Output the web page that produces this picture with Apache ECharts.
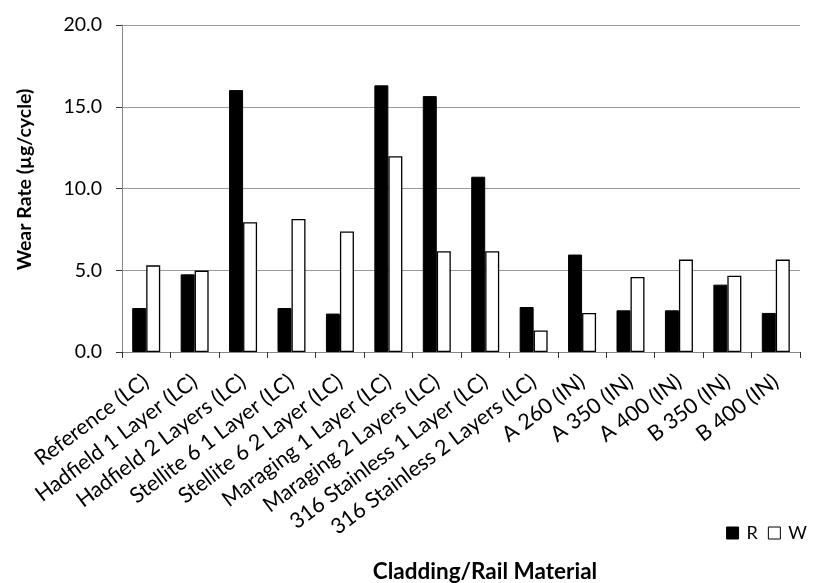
<!DOCTYPE html>
<html>
<head>
<meta charset="utf-8">
<script src="https://cdn.jsdelivr.net/npm/echarts@6/dist/echarts.min.js"></script>
<style>html,body{margin:0;padding:0;background:#fff}#c{width:816px;height:583px}</style>
</head>
<body>
<div id="c"></div>
<script>
const categories = ['Reference (LC)','Hadfield 1 Layer (LC)','Hadfield 2 Layers (LC)','Stellite 6 1 Layer (LC)','Stellite 6 2 Layer (LC)','Maraging 1 Layer (LC)','Maraging 2 Layers (LC)','316 Stainless 1 Layer (LC)','316 Stainless 2 Layers (LC)','A 260 (IN)','A 350 (IN)','A 400 (IN)','B 350 (IN)','B 400 (IN)'];
const seriesR = [2.69, 4.75, 16.02, 2.69, 2.35, 16.31, 15.65, 10.72, 2.75, 5.96, 2.55, 2.55, 4.12, 2.39];
const seriesW = [5.30, 4.98, 7.94, 8.14, 7.37, 11.98, 6.16, 6.16, 1.32, 2.39, 4.59, 5.65, 4.67, 5.65];
const yTicks = [0, 5, 10, 15, 20];

const FONT = 'Lato';
const chart = echarts.init(document.getElementById('c'));
chart.setOption({
  animation: false,
  textStyle: { fontFamily: FONT },
  grid: { left: 122, right: 16, top: 25, bottom: 231, containLabel: false, outerBoundsMode: 'none' },
  legend: {
    right: 4, top: 519,
    itemWidth: 12, itemHeight: 12, itemGap: 10,
    textStyle: { fontFamily: FONT, fontSize: 18, color: '#000', padding: [0, 0, 0, 3] },
    data: [
      { name: 'R', icon: 'rect', itemStyle: { color: '#000', borderColor: '#000', borderWidth: 1 } },
      { name: 'W', icon: 'rect', itemStyle: { color: '#fff', borderColor: '#000', borderWidth: 1 } }
    ]
  },
  xAxis: {
    type: 'category',
    data: categories,
    name: 'Cladding/Rail Material',
    nameLocation: 'middle',
    nameGap: 208,
    nameMoveOverlap: false,
    nameTextStyle: { fontFamily: FONT, fontSize: 22.5, fontWeight: 'bold', color: '#000', padding: [0, 0, 0, 48] },
    axisLine: { lineStyle: { color: '#888', width: 1 } },
    axisTick: { show: true, alignWithLabel: false, length: 6, lineStyle: { color: '#333' } },
    axisLabel: { rotate: 37, interval: 0, fontSize: 21.5, color: '#000', margin: 27, fontFamily: FONT }
  },
  yAxis: {
    type: 'value',
    min: 0, max: 20, interval: 5,
    name: 'Wear Rate (µg/cycle)',
    nameLocation: 'middle',
    nameGap: 87,
    nameTextStyle: { fontFamily: FONT, fontSize: 19.5, fontWeight: 'bold', color: '#000', padding: [0, 0, 0, 18] },
    axisLine: { show: true, lineStyle: { color: '#888', width: 1 } },
    axisTick: { show: true, length: 6, lineStyle: { color: '#333' } },
    splitLine: { lineStyle: { color: '#999', width: 1 } },
    axisLabel: { fontSize: 19.5, color: '#000', margin: 20, fontFamily: FONT, formatter: v => yTicks.includes(v) ? v.toFixed(1) : '' }
  },
  series: [
    { name: 'R', type: 'bar', data: seriesR, barWidth: 14, barGap: '0%',
      itemStyle: { color: '#000', borderColor: '#000', borderWidth: 1 } },
    { name: 'W', type: 'bar', data: seriesW, barWidth: 14, barGap: '0%',
      itemStyle: { color: '#fff', borderColor: '#000', borderWidth: 1.3 } }
  ]
});
</script>
</body>
</html>
